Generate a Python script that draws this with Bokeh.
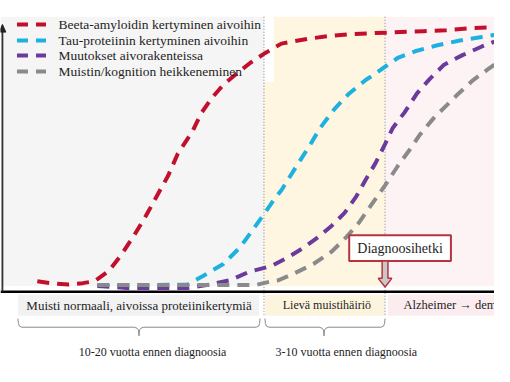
from bokeh.plotting import figure
from bokeh.models import Range1d
from bokeh.embed import file_html
from bokeh.resources import INLINE
from bokeh.core.properties import value

# ---------------- data (time units along x, level units along y) ----------------
series_names = [
    "Beeta-amyloidin kertyminen aivoihin",
    "Tau-proteiinin kertyminen aivoihin",
    "Muutokset aivorakenteissa",
    "Muistin/kognition heikkeneminen",
]
series_colors = ["#c20f2c", "#1cb1e0", "#6a3a9c", "#8a8a8a"]

beta_t = [38, 55, 70, 85, 97, 112, 125, 138, 150, 162, 173, 183, 198, 207, 218, 230, 243, 258, 273,
          290, 317, 340, 363, 387, 413, 437, 460, 483, 510]
beta_v = [7, 4.5, 3.5, 5, 7, 18, 35, 55, 75, 97, 117, 140, 163, 182, 198, 212, 223, 235, 245,
          255, 260, 263, 265, 266, 267, 268, 269, 271, 272]

tau_t = [100, 150, 193, 210, 230, 247, 260, 272, 283, 290, 303, 320, 330, 345, 360, 377, 393, 410,
         428, 450, 473, 497, 510]
tau_v = [3, 3, 3.5, 13, 25, 42, 60, 77, 93, 102, 123, 150, 167, 187, 203, 217, 228, 240,
         247, 253, 258, 262, 264]

struct_t = [100, 130, 193, 213, 237, 257, 280, 297, 313, 328, 342, 355, 367, 377, 387, 397, 405, 417,
            430, 443, 458, 477, 497, 510]
struct_v = [2, 0, 0, 3, 8, 17, 23, 32, 42, 53, 65, 78, 95, 113, 130, 150, 167, 183,
            203, 218, 233, 243, 252, 257]

cog_t = [100, 213, 237, 263, 280, 287, 307, 323, 342, 357, 370, 383, 397, 410, 423, 433, 447, 460,
         473, 488, 503, 510]
cog_v = [3, 3, 3, 3, 7, 8, 17, 25, 38, 53, 68, 87, 107, 127, 145, 160, 177, 190,
         203, 217, 228, 233]

phase_labels = ["Muisti normaali, aivoissa proteiinikertymiä", "Lievä muistihäiriö", "Alzheimer \u2192 dementia"]
span_labels = ["10-20 vuotta ennen diagnoosia", "3-10 vuotta ennen diagnoosia"]
diagnosis_label = "Diagnoosihetki"

# phase boundaries (time units)
t_start, t_mci, t_diag, t_end = 0, 272, 397, 510

# ---------------- figure ----------------
SERIF = value("Liberation Serif")
p = figure(width=494, height=366, x_range=Range1d(0, 510), y_range=Range1d(-82, 300),
           output_backend="svg", toolbar_location=None, min_border=0)
p.axis.visible = False
p.grid.visible = False
p.outline_line_color = None
p.background_fill_color = "white"
p.border_fill_color = "white"

# phase panels
p.quad(left=[t_start], right=[t_mci], bottom=[2], top=[283], fill_color="#f5f5f5", line_color=None)
p.quad(left=[t_mci], right=[t_diag], bottom=[2], top=[283], fill_color="#fff6e1", line_color=None)
p.quad(left=[t_mci], right=[282], bottom=[215], top=[283], fill_color="white", line_color=None)
p.quad(left=[t_diag], right=[t_end], bottom=[2], top=[283], fill_color="#fdf3f5", line_color=None)

# phase label boxes
p.quad(left=[18], right=[267], bottom=[-29], top=[-7], fill_color="#f2f2f2", line_color=None)
p.quad(left=[t_mci + 1], right=[t_diag], bottom=[-29], top=[-7], fill_color="#fdf4de", line_color=None)
p.quad(left=[400], right=[t_end], bottom=[-29], top=[-7], fill_color="#fbecef", line_color=None)

# dotted boundaries
for tb in (t_mci, t_diag):
    p.line([tb, tb], [283, -30], line_color="#9a9a9a", line_width=1.3, line_dash="1 2")

# axes lines
p.line([t_start, t_end], [-4, -4], line_color="black", line_width=2.5)
p.line([2, 2], [268, -4], line_color="#333333", line_width=1.8)
p.patch([-1.5, 2, 5.5], [267, 275, 267], fill_color="#222222", line_color="#222222")

# curves
for (tx, vy, c) in [(beta_t, beta_v, series_colors[0]), (tau_t, tau_v, series_colors[1]),
                    (struct_t, struct_v, series_colors[2]), (cog_t, cog_v, series_colors[3])]:
    p.line(tx, vy, line_color=c, line_width=4, line_dash="12 8", line_join="round")

# legend
leg_rows = [275, 258.3, 242.7, 226]
for name, c, ly in zip(series_names, series_colors, leg_rows):
    p.line([17, 47], [ly, ly], line_color=c, line_width=4, line_dash="11 8")
p.text(x=[60] * 4, y=leg_rows, text=series_names, text_font=SERIF, text_font_size="13.5px",
       text_align="left", text_baseline="middle", text_color="#1e1e1e")

# phase labels
p.text(x=[143, 337], y=[-18, -18], text=phase_labels[:2], text_font=SERIF,
       text_font_size=["13px", "12px"], text_align="center", text_baseline="middle", text_color="#1e1e1e")
p.text(x=[416], y=[-18], text=phase_labels[2:], text_font=SERIF, text_font_size="12.5px",
       text_align="left", text_baseline="middle", text_color="#1e1e1e")

# braces
def brace(x0, x1, xm):
    xs = [x0, x0 + 0.5, x0 + 1.5, x0 + 4, xm - 5, xm - 2, xm - 0.5, xm,
          xm + 0.5, xm + 2, xm + 5, x1 - 4, x1 - 1.5, x1 - 0.5, x1]
    ys = [-32, -37, -39.8, -41, -41, -42, -44, -50,
          -44, -42, -41, -41, -39.8, -37, -32]
    p.line(xs, ys, line_color="#8a8a8a", line_width=1)

brace(18, 268, 143)
brace(t_mci + 1, t_diag, 334)

p.text(x=[157, 357], y=[-67, -67], text=span_labels, text_font=SERIF, text_font_size="12px",
       text_align="center", text_baseline="middle", text_color="#1e1e1e")

# diagnosis marker
p.quad(left=[360], right=[465], bottom=[28], top=[55], fill_color="white", line_color="#b5343f", line_width=2)
p.text(x=[412.5], y=[41.5], text=[diagnosis_label], text_font=SERIF, text_font_size="14px",
       text_align="center", text_baseline="middle", text_color="#1e1e1e")
p.patch([t_diag - 3, t_diag + 3, t_diag + 3, t_diag + 7, t_diag, t_diag - 7, t_diag - 3],
        [28, 28, 10, 10, 1, 10, 10], fill_color="#c8c8c8", line_color="#b5343f", line_width=1.5)

open("out.html", "w").write(file_html(p, INLINE))
